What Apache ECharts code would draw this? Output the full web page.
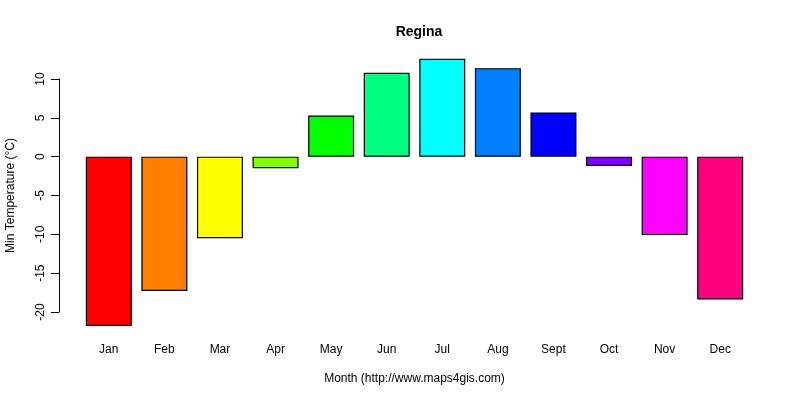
<!DOCTYPE html>
<html>

<head>
    <meta charset="utf-8">
    <title>Regina</title>
    <script src="https://cdn.jsdelivr.net/npm/echarts@6/dist/echarts.min.js"></script>
    <style>
        html, body { margin: 0; padding: 0; background: #fff; }
        #container { width: 800px; height: 400px; }
    </style>
</head>

<body>
    <div id="container"></div>
</body>
<script type="text/javascript">
    var months = ['Jan', 'Feb', 'Mar', 'Apr', 'May', 'Jun', 'Jul', 'Aug', 'Sept', 'Oct', 'Nov', 'Dec'];
    var minTemp = [-21.8, -17.3, -10.5, -1.5, 5.3, 10.8, 12.6, 11.4, 5.7, -1.2, -10.1, -18.4];
    var barColors = ['#FF0000', '#FF8000', '#FFFF00', '#80FF00', '#00FF00', '#00FF80',
        '#00FFFF', '#0080FF', '#0000FF', '#8000FF', '#FF00FF', '#FF0080'];
    var yTicks = [-20, -15, -10, -5, 0, 5, 10];

    var dom = document.getElementById("container");
    var myChart = echarts.init(dom);
    var font = 'Liberation Sans, Arial, sans-serif';

    var option = {
        backgroundColor: '#fff',
        animation: false,
        textStyle: { fontFamily: font },
        title: {
            text: 'Regina',
            left: 414,
            top: 20,
            textAlign: 'center',
            textStyle: { fontFamily: font, fontSize: 14, fontWeight: 'bold', color: '#000' }
        },
        grid: {
            left: 81,
            right: 52,
            top: 79,
            bottom: 88,
            outerBoundsMode: 'none'
        },
        xAxis: {
            type: 'category',
            data: months,
            axisLine: { show: false },
            axisTick: { show: false },
            axisLabel: { margin: 32, fontSize: 12, color: '#000', fontFamily: font },
            name: 'Month (http://www.maps4gis.com)',
            nameLocation: 'middle',
            nameGap: 61,
            nameTextStyle: { fontSize: 12, color: '#000', fontFamily: font }
        },
        yAxis: {
            type: 'value',
            min: yTicks[0],
            max: yTicks[yTicks.length - 1],
            interval: 5,
            offset: 22,
            splitLine: { show: false },
            axisLine: { show: true, lineStyle: { color: '#000', width: 1 } },
            axisTick: { show: true, length: 8, lineStyle: { color: '#000' } },
            axisLabel: { rotate: 90, margin: 12, fontSize: 12, color: '#000', fontFamily: font },
            name: 'Min Temperature (°C)',
            nameLocation: 'middle',
            nameGap: 42,
            nameRotate: 90,
            nameTextStyle: { fontSize: 12, color: '#000', fontFamily: font }
        },
        series: [{
            type: 'bar',
            clip: false,
            barWidth: 46,
            data: minTemp.map(function (v, i) {
                return { value: v, itemStyle: { color: barColors[i] } };
            }),
            itemStyle: { borderColor: '#000', borderWidth: 1.2 }
        }]
    };
    myChart.setOption(option, true);
</script>

</html>
